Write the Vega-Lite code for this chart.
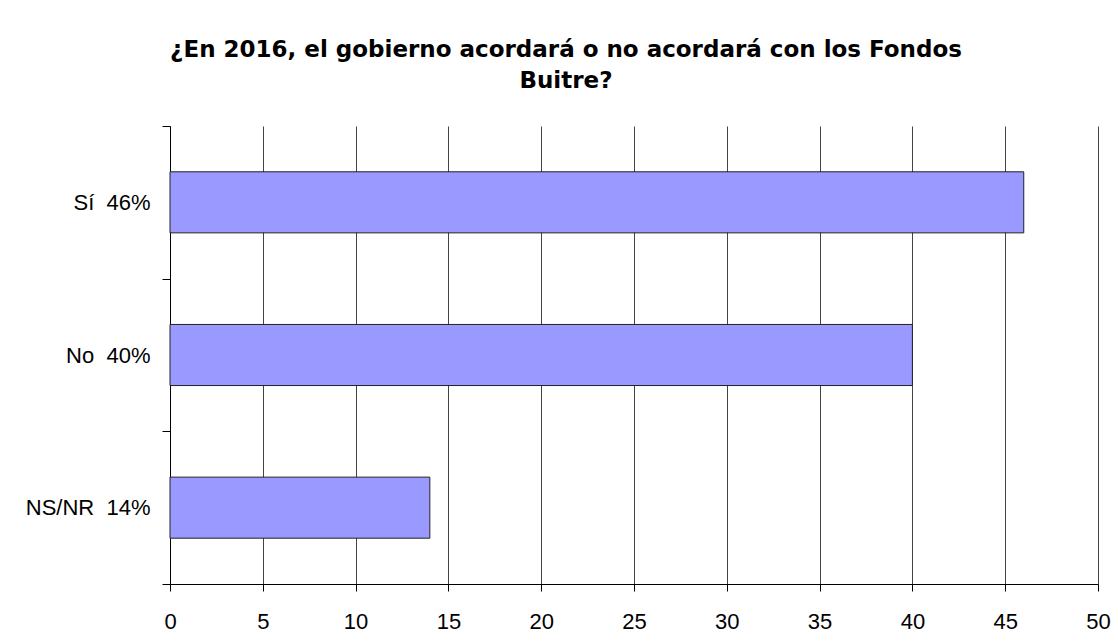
{
  "$schema": "https://vega.github.io/schema/vega-lite/v6.json",
  "autosize": "none",
  "width": 928,
  "height": 458,
  "padding": {"left": 170, "top": 126, "right": 20, "bottom": 60},
  "background": "white",
  "title": {
    "text": ["¿En 2016, el gobierno acordará o no acordará con los Fondos", "Buitre?"],
    "font": "DejaVu Sans",
    "fontSize": 23,
    "fontWeight": "bold",
    "color": "black",
    "lineHeight": 31,
    "anchor": "middle",
    "dx": -68,
    "offset": 22
  },
  "data": {
    "values": [
      {"label": "Sí\u00a0\u00a046%", "value": 46, "order": 1},
      {"label": "No\u00a0\u00a040%", "value": 40, "order": 2},
      {"label": "NS/NR\u00a0\u00a014%", "value": 14, "order": 3}
    ]
  },
  "mark": {"type": "bar", "fill": "#9999FF", "stroke": "#222222", "strokeWidth": 1, "height": {"band": 0.4}},
  "encoding": {
    "y": {
      "field": "label",
      "type": "nominal",
      "sort": {"field": "order"},
      "title": null,
      "scale": {"paddingInner": 0, "paddingOuter": 0},
      "axis": {
        "tickBand": "extent",
        "tickSize": 8,
        "tickColor": "black",
        "domainColor": "black",
        "labelPadding": 12,
        "labelFont": "Liberation Sans",
        "labelFontSize": 22,
        "labelColor": "black",
        "grid": false
      }
    },
    "x": {
      "field": "value",
      "type": "quantitative",
      "title": null,
      "scale": {"domain": [0, 50], "nice": false},
      "axis": {
        "values": [0, 5, 10, 15, 20, 25, 30, 35, 40, 45, 50],
        "tickSize": 7,
        "tickColor": "black",
        "domainColor": "black",
        "labelPadding": 20,
        "labelFont": "Liberation Sans",
        "labelFontSize": 22,
        "labelColor": "black",
        "grid": true,
        "gridColor": "#444444",
        "gridOpacity": 1,
        "labelFlush": false
      }
    }
  },
  "config": {
    "view": {"stroke": null}
  }
}
